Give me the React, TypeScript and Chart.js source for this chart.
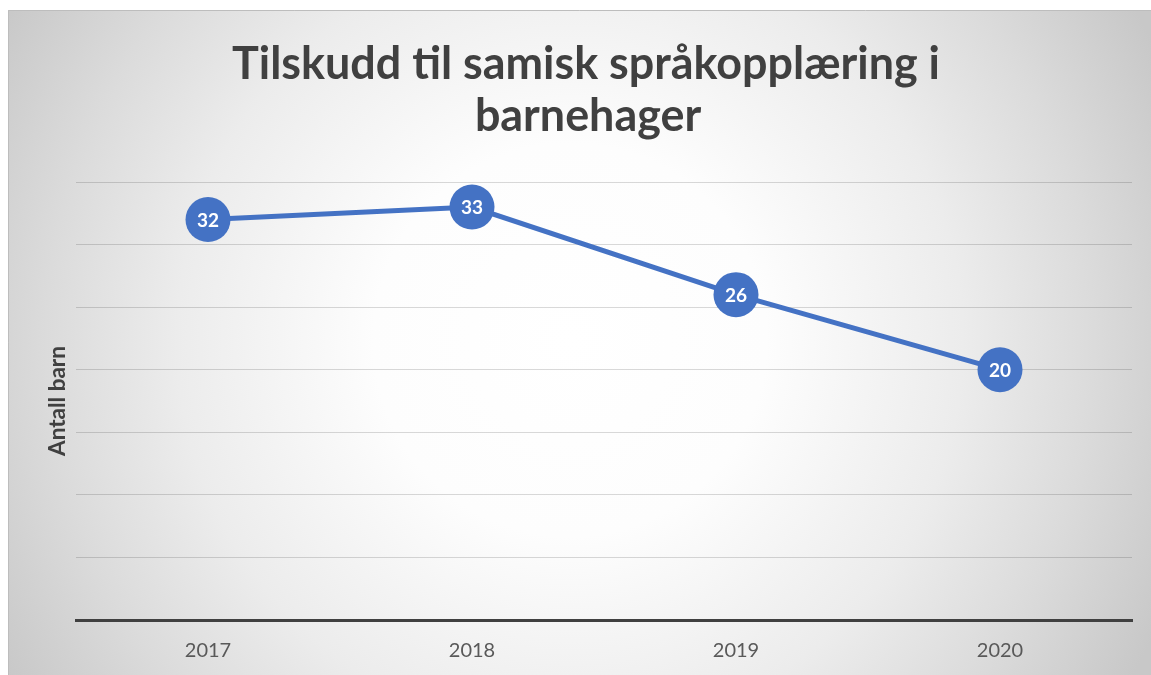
import React, { useEffect, useRef } from "react";
import { Chart, registerables } from "chart.js";

Chart.register(...registerables);

const categories = ["2017", "2018", "2019", "2020"];
const values = [32, 33, 26, 20];
const titleLines = ["Tilskudd til samisk språkopplæring i", "barnehager"];
const yAxisTitle = "Antall barn";
const yMin = 0;
const yMax = 35;
const yStep = 5;

const FONT = "Lato, 'Open Sans', 'DejaVu Sans', sans-serif";
const W = 1143;
const H = 665;

function fitFont(ctx: CanvasRenderingContext2D, text: string, weight: string, target: number) {
  ctx.font = `${weight} 40px ${FONT}`;
  const w = ctx.measureText(text).width;
  return (40 * target) / w;
}

const backgroundPlugin = {
  id: "bg",
  beforeDraw(chart: any) {
    const { ctx, width, height } = chart;
    ctx.save();
    const g = ctx.createRadialGradient(562, 330, 0, 562, 330, 655);
    g.addColorStop(0, "#ffffff");
    g.addColorStop(0.3, "#fdfdfd");
    g.addColorStop(0.6, "#ececec");
    g.addColorStop(0.8, "#dbdbdb");
    g.addColorStop(1, "#c8c8c8");
    ctx.fillStyle = g;
    ctx.fillRect(0, 0, width, height);
    ctx.strokeStyle = "#bdbdbd";
    ctx.lineWidth = 1;
    ctx.beginPath();
    ctx.moveTo(0.5, height);
    ctx.lineTo(0.5, 0.5);
    ctx.lineTo(width, 0.5);
    ctx.stroke();
    ctx.restore();
  },
};

const textPlugin = {
  id: "texts",
  afterDraw(chart: any) {
    const { ctx, chartArea } = chart;
    ctx.save();
    const size = fitFont(ctx, titleLines[0], "bold", 708);
    ctx.font = `bold ${size}px ${FONT}`;
    ctx.fillStyle = "#404040";
    ctx.textAlign = "center";
    ctx.textBaseline = "alphabetic";
    ctx.fillText(titleLines[0], 578, 69);
    ctx.fillText(titleLines[1], 580, 121);
    const ys = fitFont(ctx, yAxisTitle, "bold", 110);
    ctx.font = `bold ${ys}px ${FONT}`;
    ctx.translate(50, (chartArea.top + chartArea.bottom) / 2);
    ctx.rotate(-Math.PI / 2);
    ctx.textBaseline = "middle";
    ctx.fillText(yAxisTitle, 0, 0);
    ctx.restore();
  },
};

const labelPlugin = {
  id: "pointLabels",
  afterDatasetsDraw(chart: any) {
    const { ctx } = chart;
    const meta = chart.getDatasetMeta(0);
    ctx.save();
    ctx.font = `bold 19px ${FONT}`;
    ctx.fillStyle = "#ffffff";
    ctx.textAlign = "center";
    ctx.textBaseline = "middle";
    meta.data.forEach((pt: any, i: number) => {
      ctx.fillText(String(values[i]), pt.x, pt.y + 1);
    });
    ctx.restore();
  },
};

export default function App() {
  const ref = useRef<HTMLCanvasElement | null>(null);
  useEffect(() => {
    if (!ref.current) return;
    const chart = new Chart(ref.current, {
      type: "line",
      data: {
        labels: categories,
        datasets: [
          {
            data: values,
            borderColor: "#4472C4",
            backgroundColor: "#4472C4",
            borderWidth: 5,
            pointRadius: 22.5,
            pointHoverRadius: 22.5,
            pointBorderWidth: 0,
            pointBackgroundColor: "#4472C4",
            tension: 0,
          },
        ],
      },
      options: {
        animation: false,
        responsive: false,
        maintainAspectRatio: false,
        layout: { autoPadding: false, padding: { left: 68, right: 19, top: 172, bottom: 0 } },
        plugins: {
          legend: { display: false },
          title: { display: false },
          tooltip: { enabled: false },
        },
        scales: {
          x: {
            type: "category",
            offset: true,
            grid: { display: false, drawTicks: false },
            border: { display: true, color: "#404040", width: 3 },
            ticks: {
              color: "#595959",
              font: { family: FONT, size: 20 },
              padding: 19,
            },
            afterFit(scale: any) {
              scale.height = 55;
            },
          },
          y: {
            min: yMin,
            max: yMax,
            ticks: { display: false, stepSize: yStep },
            grid: { color: "rgba(0,0,0,0.15)", lineWidth: 1, drawTicks: false, tickLength: 0 },
            border: { display: false },
            afterFit(scale: any) {
              scale.width = 0;
            },
          },
        },
      },
      plugins: [backgroundPlugin, labelPlugin, textPlugin],
    });
    return () => chart.destroy();
  }, []);
  return (
    <div style={{ position: "fixed", left: 8, top: 10, width: W, height: H }}>
      <canvas ref={ref} width={W} height={H} style={{ display: "block", width: W, height: H }} />
    </div>
  );
}
